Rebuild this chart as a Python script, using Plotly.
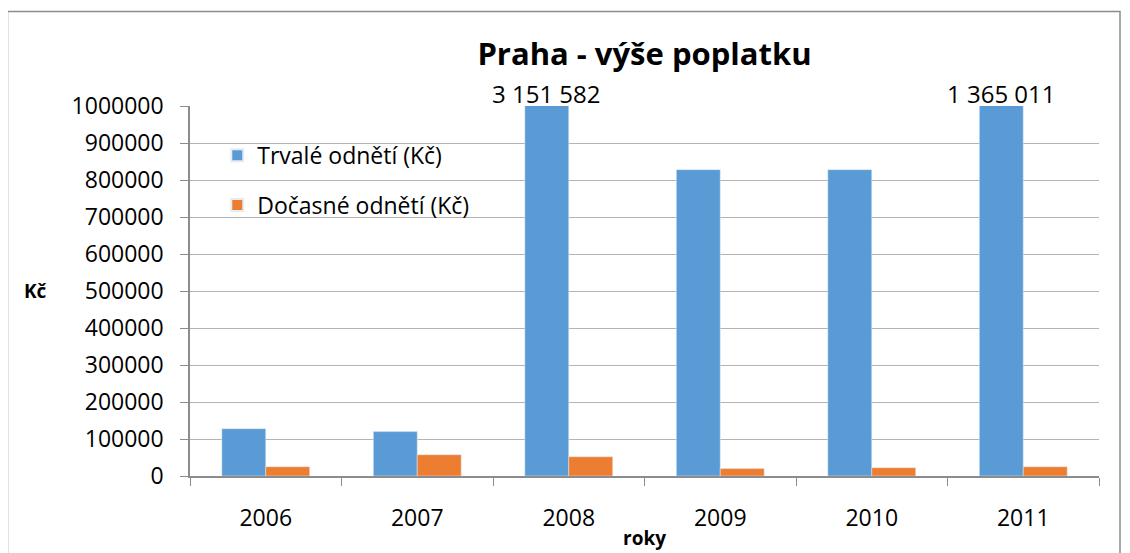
import plotly.graph_objects as go

years = ["2006", "2007", "2008", "2009", "2010", "2011"]
trvale = [128000, 120000, 3151582, 828000, 828000, 1365011]
docasne = [25000, 57500, 52000, 20000, 22500, 25000]
y_ticks = [0, 100000, 200000, 300000, 400000, 500000, 600000, 700000, 800000, 900000, 1000000]
y_max = 1000000

FONT = "Open Sans"
OFF = 8  # default page body margin
W, H = 1130 - OFF, 553 - OFF
ML, MR, MT, MB = 190 - OFF, 31, 106 - OFF, 77
PW, PH = W - ML - MR, H - MT - MB

fig = go.Figure()
fig.add_trace(go.Bar(x=years, y=trvale, name="Trvalé odnětí (Kč)", marker_color="#5b9bd5",
                     legendgroup="a"))
fig.add_trace(go.Bar(x=years, y=docasne, name="Dočasné odnětí (Kč)", marker_color="#ed7d31",
                     legendgroup="b"))

# labels for bars exceeding axis max (x given as category index)
for i, v in enumerate(trvale):
    if v > y_max:
        fig.add_annotation(x=i - 0.145, y=y_max, yshift=-6,
                           text=f"{v:,}".replace(",", " "), showarrow=False,
                           yanchor="bottom", font=dict(family=FONT, size=24, color="#000"))

fig.add_annotation(x=-(ML - (35 - OFF)) / PW, y=0.5, xref="paper", yref="paper", text="<b>Kč</b>",
                   showarrow=False, xanchor="center", font=dict(family=FONT, size=19, color="#000"))
fig.add_annotation(x=0.5, y=-(538 - 476) / PH, xref="paper", yref="paper", text="<b>roky</b>",
                   showarrow=False, yanchor="middle", font=dict(family=FONT, size=19, color="#000"))

# chart border
fig.add_shape(type="rect", xref="paper", yref="paper",
              x0=-(ML - (7.5 - OFF)) / PW, x1=1 + (MR - 10) / PW,
              y0=-(MB + 5) / PH, y1=1 + (MT - (11.5 - OFF)) / PH,
              line=dict(color="#8c8c8c", width=1.5))

fig.update_layout(
    width=W, height=H,
    margin=dict(l=ML, r=MR, t=MT, b=MB, autoexpand=False),
    paper_bgcolor="white", plot_bgcolor="white",
    barmode="group", bargap=0.42, bargroupgap=0,
    title=dict(text="<b>Praha - výše poplatku</b>", x=0.5, xref="paper", xanchor="center",
               y=1 - (54 - OFF) / H, yanchor="middle",
               font=dict(family=FONT, size=31, color="#000")),
    font=dict(family=FONT, size=23, color="#000"),
    showlegend=True,
    legend=dict(x=0.03, y=0.925, xanchor="left", yanchor="top", bgcolor="rgba(0,0,0,0)",
                font=dict(family=FONT, size=23, color="#000"), tracegroupgap=17,
                itemsizing="constant"),
    xaxis=dict(type="category", range=[-0.5, len(years) - 0.5], showline=True,
               linecolor="#8c8c8c", linewidth=1.5, automargin=False,
               ticks="outside", tickson="boundaries", ticklen=8, tickcolor="#8c8c8c",
               ticklabelstandoff=21,
               tickfont=dict(family=FONT, size=23), showgrid=False),
    yaxis=dict(range=[0, y_max], tickvals=y_ticks, ticktext=[str(t) for t in y_ticks],
               showline=True, linecolor="#8c8c8c", linewidth=1.5, ticks="outside", ticklen=8,
               ticklabelstandoff=12,
               tickcolor="#8c8c8c", gridcolor="#b3b3b3", gridwidth=1, automargin=False,
               tickfont=dict(family=FONT, size=23), zeroline=False),
)
fig.write_html("out.html")
